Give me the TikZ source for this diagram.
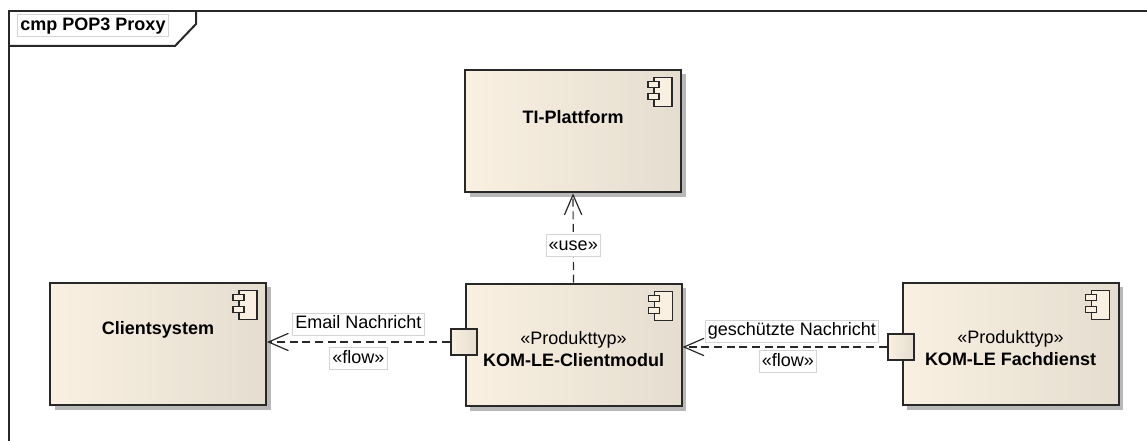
\documentclass[tikz,border=0pt]{standalone}
\usepackage{fontspec}
\setmainfont{Liberation Sans}
\usetikzlibrary{arrows.meta,shadows}
\definecolor{compleft}{RGB}{249,240,226}
\definecolor{compright}{RGB}{229,221,207}
\definecolor{edgeline}{RGB}{40,40,40}
\definecolor{labelframe}{RGB}{212,212,212}
\begin{document}
\begin{tikzpicture}[x=0.75pt,y=-0.75pt,
    font=\fontsize{13.5}{16.5}\selectfont,
    component/.style={draw=edgeline, line width=1.5pt, left color=compleft, right color=compright,
        minimum width=162pt, minimum height=92pt, inner sep=0pt,
        general shadow={fill=black!28, shadow xshift=3.5pt, shadow yshift=-3.5pt}},
    port/.style={draw=edgeline, line width=1.5pt, left color=compleft, right color=compright,
        minimum width=20pt, minimum height=19pt, inner sep=0pt},
    compname/.style={font=\fontsize{13.5}{16.5}\selectfont\bfseries, align=center},
    flowlabel/.style={draw=labelframe, solid, fill=white, line width=0.6pt, inner xsep=2pt, inner ysep=2pt,
        text height=10pt, text depth=2.5pt},
    flow/.style={draw=edgeline, line width=0.9pt, dash pattern=on 6pt off 3.5pt,
        -{Straight Barb[length=15pt,width=13pt]}}
    ]
    \useasboundingbox (0,0) rectangle (1147,441);
    \clip (0,0) rectangle (1147,441);
    % frame
    \draw[edgeline, line width=1.5pt] (9,11) rectangle (1170,470);
    \draw[edgeline, line width=1.5pt] (9,46) -- (175,46) -- (196,24) -- (196,11);
    \node[flowlabel, font=\fontsize{13.5}{16.5}\selectfont\bfseries] (title) at (93,25.5) {cmp POP3 Proxy};
    % components
    \node[component] (ti) at (573,131) {};
    \node[component] (client) at (158,344) {};
    \node[component] (modul) at (573.5,345) {};
    \node[component] (fach) at (1010.5,344) {};
    \node[compname] (ti-name) at ([yshift=-36pt]ti.north) {TI-Plattform};
    \node[compname] (client-name) at ([yshift=-36pt]client.north) {Clientsystem};
    \node[compname] (modul-name) at ([yshift=-49.5pt]modul.north) {{\mdseries «Produkttyp»}\\KOM-LE-Clientmodul};
    \node[compname] (fach-name) at ([yshift=-49.5pt]fach.north) {{\mdseries «Produkttyp»}\\KOM-LE Fachdienst};
    \foreach \c in {ti,client,modul,fach}
    {
    \draw[edgeline, line width=1.1pt, fill=compleft] ([shift={(-28,9)}]\c.north east) rectangle ([shift={(-10,38)}]\c.north east);
    \draw[edgeline, line width=1.1pt, fill=compleft] ([shift={(-34,13)}]\c.north east) rectangle ([shift={(-23,19)}]\c.north east);
    \draw[edgeline, line width=1.1pt, fill=compleft] ([shift={(-34,25)}]\c.north east) rectangle ([shift={(-23,31)}]\c.north east);
    }
    % ports
    \node[port] (mport) at (464,342) {};
    \node[port] (fport) at (901,347) {};
    % connectors
    \draw[flow] (mport.west) -- (mport.west -| client.east)
        node[flowlabel, midway, above=5pt] (email-label) {Email Nachricht}
        node[flowlabel, midway, below=4pt] (email-flow) {«flow»};
    \draw[flow] (fport.west) -- (fport.west -| modul.east)
        node[flowlabel, midway, above=3.5pt, xshift=5.5pt] (secure-label) {geschützte Nachricht}
        node[flowlabel, midway, below=2.5pt, xshift=2.5pt] (secure-flow) {«flow»};
    \draw[flow] (modul.north) -- (ti.south)
        node[flowlabel, midway, yshift=-5.5pt] (use-label) {«use»};
\end{tikzpicture}
\end{document}
